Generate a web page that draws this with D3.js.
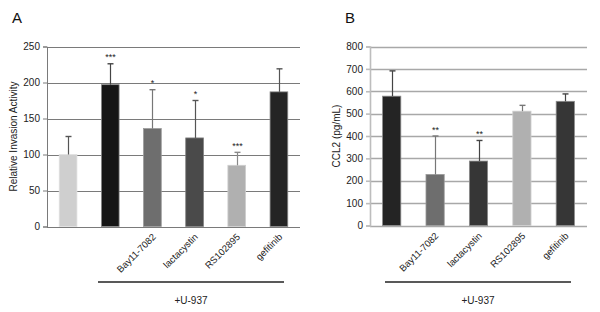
<!DOCTYPE html>
<html><head><meta charset="utf-8">
<script src="https://cdn.jsdelivr.net/npm/d3@7"></script>
<style>body{margin:0;background:#fff}svg{display:block;font-family:"Liberation Sans",Arial,sans-serif}</style>
</head><body><svg id="c" width="600" height="312"></svg>
<script>
// Panel A data
const catsA = ["control", "Bay11-7082", "lactacystin", "RS102895", "gefitinib", "gefitinib2"];
const labelsA = ["", "", "Bay11-7082", "lactacystin", "RS102895", "gefitinib"];
const valuesA = [100, 197, 136, 123, 85, 187];
const errA = [25, 29, 54, 52, 18, 32];
const starsA = ["", "***", "*", "*", "***", ""];
const ticksA = [0, 50, 100, 150, 200, 250];
// Panel B data
const catsB = ["control", "Bay11-7082", "lactacystin", "RS102895", "gefitinib"];
const labelsB = ["", "Bay11-7082", "lactacystin", "RS102895", "gefitinib"];
const valuesB = [578, 228, 288, 511, 555];
const errB = [113, 172, 92, 26, 33];
const starsB = ["", "**", "**", "", ""];
const ticksB = [0, 100, 200, 300, 400, 500, 600, 700, 800];

const colorsA = ["#cfcfcf", "#161616", "#6e6e6e", "#4a4a4a", "#b0b0b0", "#242424"];
const strokeA = ["#e0e0e0", "#8a8a8a", "#9a9a9a", "#808080", "#cfcfcf", "#8a8a8a"];
const errColA = ["#555", "#444", "#777", "#555", "#888", "#555"];
const colorsB = ["#242424", "#6e6e6e", "#363636", "#b0b0b0", "#363636"];
const strokeB = ["#8a8a8a", "#9a9a9a", "#8a8a8a", "#cfcfcf", "#8a8a8a"];
const errColB = ["#444", "#777", "#444", "#777", "#444"];

const svg = d3.select("#c");

function panel(o) {
  const g = svg.append("g");
  const x = d3.scaleBand().domain(o.cats).range([o.x0, o.x1]).paddingInner(0.58).paddingOuter(0.29);
  const y = d3.scaleLinear().domain([0, o.ymax]).range([o.y0, o.y1]);
  // gridlines
  g.append("g").selectAll("line").data(o.ticks).join("line")
    .attr("x1", o.x0).attr("x2", o.x1)
    .attr("y1", d => Math.round(y(d)) + 0.5).attr("y2", d => Math.round(y(d)) + 0.5)
    .attr("stroke", o.grid).attr("stroke-width", o.gridW);
  // y axis
  const ax = g.append("g").attr("transform", `translate(${o.x0},0)`)
    .call(d3.axisLeft(y).tickValues(o.ticks).tickSize(4).tickPadding(3));
  ax.select(".domain").attr("stroke", o.axisCol).attr("stroke-width", o.gridW);
  ax.selectAll(".tick line").attr("stroke", o.axisCol).attr("stroke-width", o.gridW);
  ax.selectAll(".tick text").attr("font-size", 10).attr("fill", "#222")
    .attr("font-family", "Liberation Sans, Arial, sans-serif");
  // bars
  g.append("g").selectAll("rect").data(o.values).join("rect")
    .attr("x", (d, i) => x(o.cats[i])).attr("width", x.bandwidth())
    .attr("y", d => y(d)).attr("height", d => o.y0 - y(d))
    .attr("fill", (d, i) => o.colors[i]).attr("stroke", (d, i) => o.strokes[i]).attr("stroke-width", 0.8);
  // error bars
  const eg = g.append("g");
  o.values.forEach((v, i) => {
    const cx = Math.round(x(o.cats[i]) + x.bandwidth() / 2) + 0.5;
    eg.append("line").attr("x1", cx).attr("x2", cx).attr("y1", y(v)).attr("y2", y(v + o.err[i]))
      .attr("stroke", o.errCol[i]).attr("stroke-width", 1.2);
    eg.append("line").attr("x1", cx - 3).attr("x2", cx + 3).attr("y1", y(v + o.err[i])).attr("y2", y(v + o.err[i]))
      .attr("stroke", o.errCol[i]).attr("stroke-width", 1.4);
    if (o.stars[i]) {
      eg.append("text").attr("x", cx).attr("y", y(v + o.err[i]) - 3.5).attr("text-anchor", "middle")
        .attr("font-size", 9).attr("fill", "#222").text(o.stars[i]);
    }
  });
  // x labels
  g.append("g").selectAll("text").data(o.labels).join("text")
    .attr("transform", (d, i) => `translate(${x(o.cats[i]) + x.bandwidth() / 2 + 4},${o.y0 + 11}) rotate(-45)`)
    .attr("text-anchor", "end").attr("font-size", 9.5).attr("fill", "#222").text(d => d);
  // y title
  g.append("text").attr("transform", `translate(${o.titleX},${(o.y0 + o.y1) / 2}) rotate(-90)`)
    .attr("text-anchor", "middle").attr("font-size", 10).attr("fill", "#222").text(o.title);
  // panel letter
  g.append("text").attr("x", o.letterX).attr("y", 23).attr("font-size", 15).attr("fill", "#111").text(o.letter);
  // bracket
  g.append("line").attr("x1", o.bx0).attr("x2", o.bx1).attr("y1", 282).attr("y2", 282)
    .attr("stroke", "#222").attr("stroke-width", 1.6);
  g.append("text").attr("x", (o.bx0 + o.bx1) / 2).attr("y", 304).attr("text-anchor", "middle")
    .attr("font-size", 10).attr("fill", "#222").text("+U-937");
}

panel({cats: catsA, labels: labelsA, values: valuesA, err: errA, stars: starsA, ticks: ticksA, ymax: 250,
  x0: 47, x1: 300, y0: 226.5, y1: 46.5, colors: colorsA, strokes: strokeA, errCol: errColA,
  grid: "#7a7a7a", gridW: 1, axisCol: "#7a7a7a", title: "Relative Invasion Activity", titleX: 17,
  letter: "A", letterX: 12, bx0: 98, bx1: 284});
panel({cats: catsB, labels: labelsB, values: valuesB, err: errB, stars: starsB, ticks: ticksB, ymax: 800,
  x0: 370, x1: 587, y0: 225.5, y1: 46.5, colors: colorsB, strokes: strokeB, errCol: errColB,
  grid: "#a8a8a8", gridW: 1.6, axisCol: "#bdbdbd", title: "CCL2 (pg/mL)", titleX: 340,
  letter: "B", letterX: 345, bx0: 385, bx1: 571});
</script></body></html>
